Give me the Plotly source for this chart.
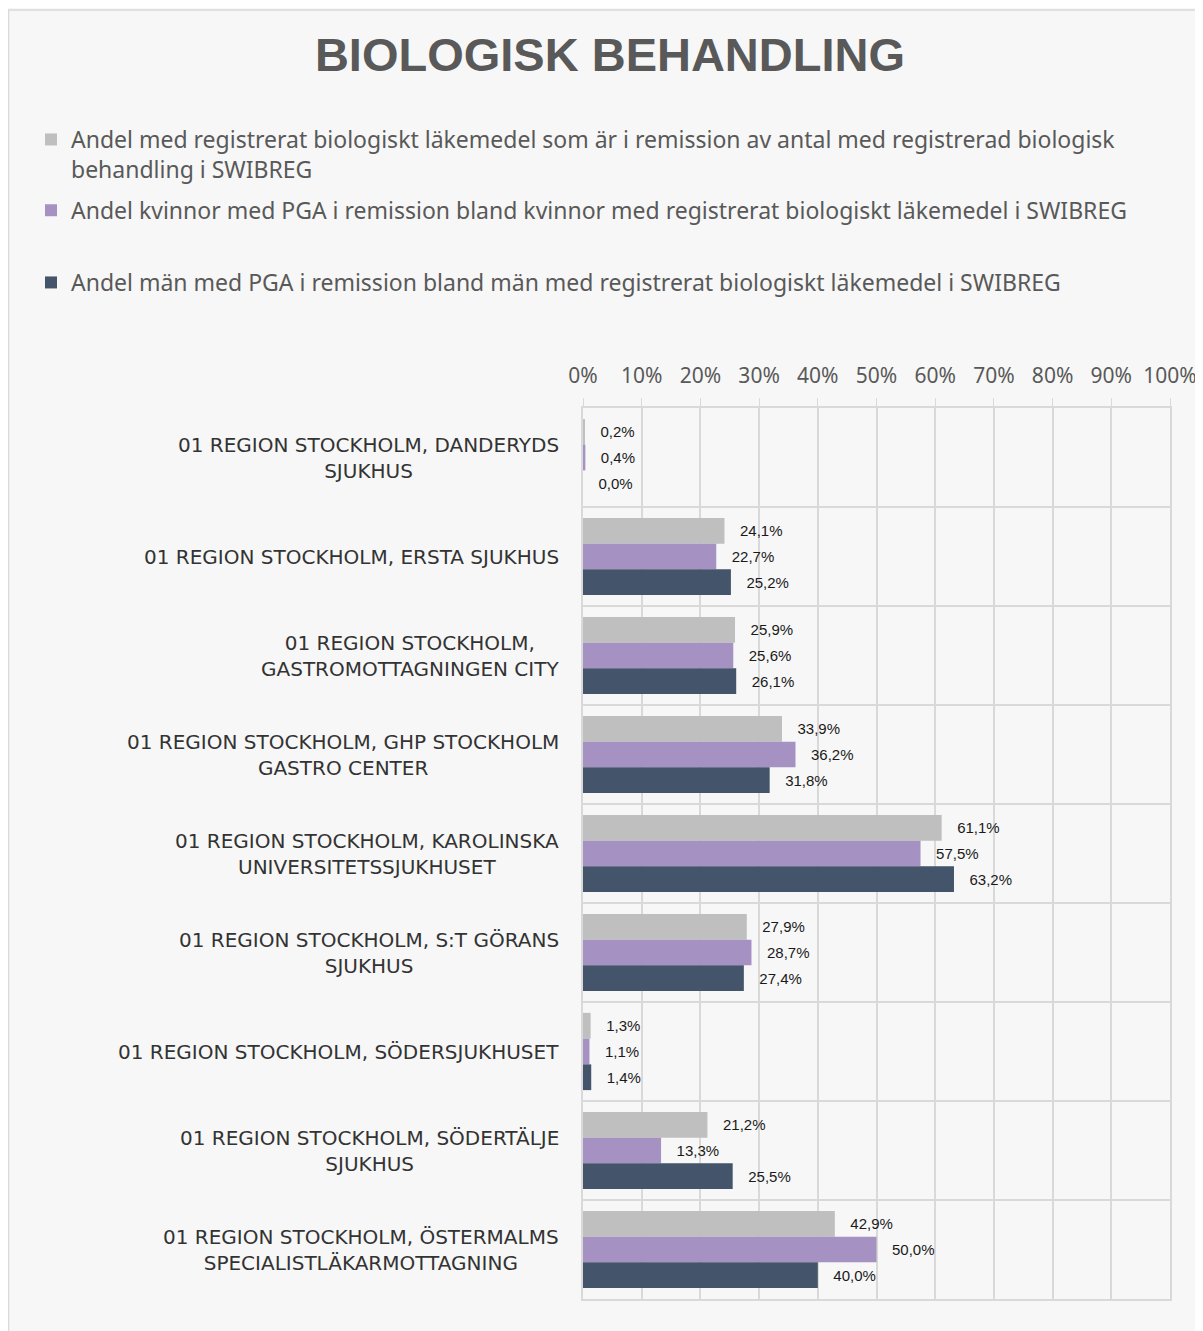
import plotly.graph_objects as go

categories = [
    "01 REGION STOCKHOLM, DANDERYDS SJUKHUS",
    "01 REGION STOCKHOLM, ERSTA SJUKHUS",
    "01 REGION STOCKHOLM, GASTROMOTTAGNINGEN CITY",
    "01 REGION STOCKHOLM, GHP STOCKHOLM GASTRO CENTER",
    "01 REGION STOCKHOLM, KAROLINSKA UNIVERSITETSSJUKHUSET",
    "01 REGION STOCKHOLM, S:T GÖRANS SJUKHUS",
    "01 REGION STOCKHOLM, SÖDERSJUKHUSET",
    "01 REGION STOCKHOLM, SÖDERTÄLJE SJUKHUS",
    "01 REGION STOCKHOLM, ÖSTERMALMS SPECIALISTLÄKARMOTTAGNING",
]
category_labels = [
    "01 REGION STOCKHOLM, DANDERYDS<br>SJUKHUS",
    "01 REGION STOCKHOLM, ERSTA SJUKHUS",
    "01 REGION STOCKHOLM,<br>GASTROMOTTAGNINGEN CITY",
    "01 REGION STOCKHOLM, GHP STOCKHOLM<br>GASTRO CENTER",
    "01 REGION STOCKHOLM, KAROLINSKA<br>UNIVERSITETSSJUKHUSET",
    "01 REGION STOCKHOLM, S:T GÖRANS<br>SJUKHUS",
    "01 REGION STOCKHOLM, SÖDERSJUKHUSET",
    "01 REGION STOCKHOLM, SÖDERTÄLJE<br>SJUKHUS",
    "01 REGION STOCKHOLM, ÖSTERMALMS<br>SPECIALISTLÄKARMOTTAGNING",
]

series_names = [
    "Andel med registrerat biologiskt läkemedel som är i remission av antal med registrerad biologisk<br>behandling i SWIBREG",
    "Andel kvinnor med PGA i remission bland kvinnor med registrerat biologiskt läkemedel i SWIBREG",
    "Andel män med PGA i remission bland män med registrerat biologiskt läkemedel i SWIBREG",
]
total_values = [0.2, 24.1, 25.9, 33.9, 61.1, 27.9, 1.3, 21.2, 42.9]
women_values = [0.4, 22.7, 25.6, 36.2, 57.5, 28.7, 1.1, 13.3, 50.0]
men_values = [0.0, 25.2, 26.1, 31.8, 63.2, 27.4, 1.4, 25.5, 40.0]
series_values = [total_values, women_values, men_values]
series_colors = ["#BFBFBF", "#A591C2", "#44546A"]
series_legends = ["legend", "legend", "legend2"]

x_tick_values = [0, 10, 20, 30, 40, 50, 60, 70, 80, 90, 100]
x_tick_labels = ["0%", "10%", "20%", "30%", "40%", "50%", "60%", "70%", "80%", "90%", "100%"]

W, H = 1203, 1331
L, R, T, B = 575, 41, 400, 40
PW, PH = W - L - R, H - T - B

fig = go.Figure()
for i, (name, vals, col, lg) in enumerate(zip(series_names, series_values, series_colors, series_legends)):
    fig.add_trace(go.Bar(
        y=categories, x=vals, name=name, orientation="h",
        marker=dict(color=col, line=dict(width=0)),
        texttemplate="\u00a0\u00a0\u00a0%{x:.1f}%",
        textposition="outside",
        textfont=dict(family="Liberation Sans, Arial", size=15, color="#1a1a1a"),
        cliponaxis=False,
        legendgroup=f"g{i}",
        legend=lg,
    ))

for cat, lab in zip(categories, category_labels):
    fig.add_annotation(
        x=0, xref="paper", xanchor="right", xshift=-22,
        y=cat, yref="y", yanchor="middle",
        text=lab, showarrow=False, align="center",
        font=dict(family="DejaVu Sans", size=20, color="#333333"),
    )

# outer chart border
fig.add_shape(
    type="rect", xref="paper", yref="paper", layer="below",
    x0=(0.5 - L) / PW, x1=(W + 20 - L) / PW,
    y0=-(B + 20) / PH, y1=1 + (T - 2) / PH,
    line=dict(color="#D9D9D9", width=1.5), fillcolor="rgba(0,0,0,0)",
)

legend_font = dict(family="Noto Sans", size=23, color="#595959")
fig.update_layout(
    width=W, height=H,
    margin=dict(l=L, r=R, t=T, b=B, autoexpand=False),
    paper_bgcolor="#F7F7F7", plot_bgcolor="#F7F7F7",
    barmode="group", bargap=0.22, bargroupgap=0,
    separators=",.",
    title=dict(
        text="<b>BIOLOGISK BEHANDLING</b>",
        x=0.5004, xanchor="center", y=0.9647, yanchor="middle",
        font=dict(family="Liberation Sans, Arial", size=47, color="#595959"),
    ),
    legend=dict(
        x=(23 - L) / PW, xanchor="left", y=1 + (T - 110) / PH, yanchor="top",
        traceorder="grouped", tracegroupgap=8, valign="top",
        font=legend_font, bgcolor="rgba(0,0,0,0)", itemclick=False,
    ),
    legend2=dict(
        x=(23 - L) / PW, xanchor="left", y=1 + (T - 253) / PH, yanchor="top",
        valign="top", font=legend_font, bgcolor="rgba(0,0,0,0)", itemclick=False,
    ),
    showlegend=True,
    xaxis=dict(
        side="top", range=[0, 100], tickvals=x_tick_values, ticktext=x_tick_labels,
        showgrid=True, gridcolor="#D9D9D9", gridwidth=1.5,
        ticks="outside", ticklen=8, tickcolor="#D9D9D9",
        ticklabelstandoff=7,
        tickfont=dict(family="Noto Sans", size=21, color="#595959"),
        showline=True, mirror=True, linecolor="#D9D9D9", linewidth=1.5,
        zeroline=False, fixedrange=True,
    ),
    yaxis=dict(
        autorange="reversed", showticklabels=False, ticks="",
        tickson="boundaries", showgrid=True, gridcolor="#D9D9D9", gridwidth=1.5,
        showline=True, mirror=True, linecolor="#D9D9D9", linewidth=1.5,
        fixedrange=True,
    ),
)

fig.write_html("out.html")
